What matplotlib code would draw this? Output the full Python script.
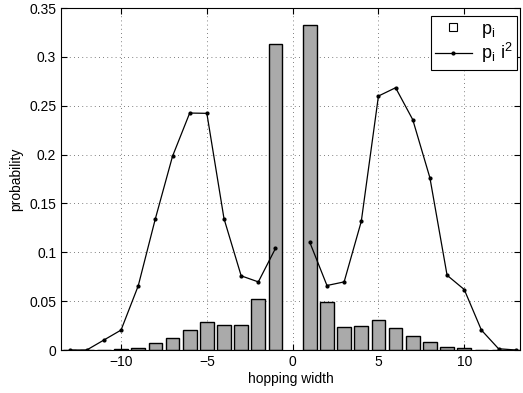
import numpy as np
import matplotlib
matplotlib.use("Agg")
import matplotlib.pyplot as plt
from matplotlib.lines import Line2D

plt.rcParams['font.family'] = ['Liberation Sans', 'DejaVu Sans']

# bar data: hopping width vs probability p_i
bar_x = [-13, -12, -11, -10, -9, -8, -7, -6, -5, -4, -3, -2, -1,
         1, 2, 3, 4, 5, 6, 7, 8, 9, 10, 11, 12, 13]
bar_p = [0.0, 0.0, 0.00025, 0.0006, 0.0024, 0.0068, 0.0126, 0.0204, 0.0289, 0.0252, 0.0252, 0.0524, 0.313,
         0.333, 0.0493, 0.0231, 0.0248, 0.031, 0.0224, 0.0146, 0.0085, 0.0027, 0.0022, 0.0005, 0.00003, 0.0]

# line data: p_i i^2 (normalised), broken at 0
line_x_left = [-13, -12, -11, -10, -9, -8, -7, -6, -5, -4, -3, -2, -1]
line_y_left = [0.0, 0.0, 0.0102, 0.0204, 0.0656, 0.1344, 0.1983, 0.2425, 0.2422, 0.1344, 0.0759, 0.0697, 0.104]
line_x_right = [1, 2, 3, 4, 5, 6, 7, 8, 9, 10, 11, 12, 13]
line_y_right = [0.1102, 0.066, 0.0697, 0.1316, 0.2599, 0.2684, 0.2357, 0.1762, 0.0765, 0.0619, 0.0204, 0.0013, 0.0]

xticks = [-10, -5, 0, 5, 10]
yticks = [0, 0.05, 0.1, 0.15, 0.2, 0.25, 0.3, 0.35]
ytick_labels = ['0', '0.05', '0.1', '0.15', '0.2', '0.25', '0.3', '0.35']

fig = plt.figure(figsize=(5.23, 3.93), dpi=100)
ax = fig.add_axes([61/523, 1 - 350/393, (520-61)/523, (350-8)/393])

ax.bar(bar_x, bar_p, width=0.8, color='#aaaaaa', edgecolor='black', linewidth=1.0, zorder=2)
lx = line_x_left + [np.nan] + line_x_right
ly = line_y_left + [np.nan] + line_y_right
ax.plot(lx, ly, color='black', linewidth=0.9, marker='.', markersize=4, zorder=3)

ax.set_xlim(-13.5, 13.25)
ax.set_ylim(0, 0.35)
ax.set_xticks(xticks)
ax.set_xticklabels(['\u221210', '\u22125', '0', '5', '10'])
ax.set_yticks(yticks)
ax.set_yticklabels(ytick_labels)
ax.grid(True, linestyle=(0, (1, 4)), color='#555555', linewidth=0.6)
ax.set_axisbelow(True)
ax.tick_params(direction='in', top=True, right=True, labelsize=10, length=4, width=0.8)
for s in ax.spines.values():
    s.set_linewidth(0.8)

ax.set_xlabel('hopping width', fontsize=10, labelpad=2)
ax.set_ylabel('probability', fontsize=10, labelpad=4)

handles = [Line2D([], [], linestyle='none', marker='s', markersize=6, markerfacecolor='white',
                  markeredgecolor='black', markeredgewidth=0.8),
           Line2D([], [], color='black', linewidth=0.9, marker='.', markersize=4)]
labels = [r'$\mathregular{p_i}$', r'$\mathregular{p_i\ i^2}$']
leg = ax.legend(handles, labels, loc='upper right', bbox_to_anchor=((517-61)/459, (350-16)/342),
                borderaxespad=0, fancybox=False,
                edgecolor='black', framealpha=1, fontsize=13, handlelength=2.0, borderpad=0.25,
                labelspacing=0.1, handletextpad=0.5)
leg.get_frame().set_linewidth(0.8)

fig.savefig('out.png', dpi=100)
